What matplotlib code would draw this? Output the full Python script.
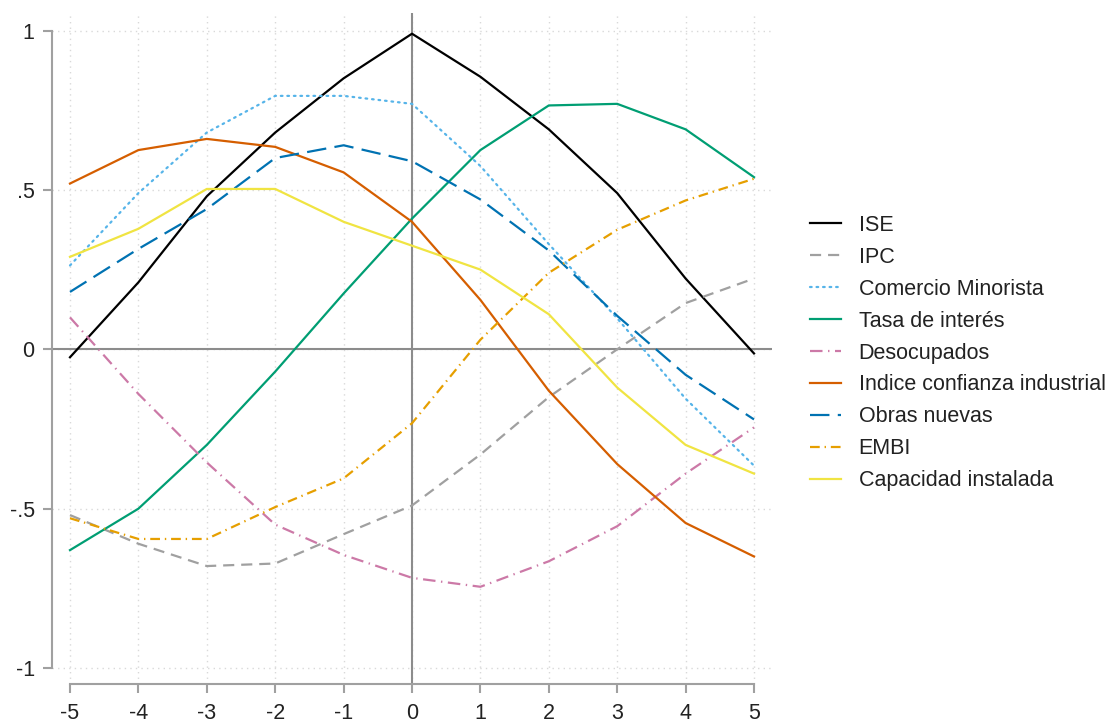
import matplotlib
matplotlib.use("Agg")
import matplotlib.pyplot as plt
import numpy as np

plt.rcParams["font.family"] = ["Liberation Sans", "DejaVu Sans"]
plt.rcParams["lines.scale_dashes"] = False

# leads / lags
lags = [-5, -4, -3, -2, -1, 0, 1, 2, 3, 4, 5]

ise = [-0.025, 0.21, 0.48, 0.68, 0.85, 0.99, 0.855, 0.69, 0.49, 0.222, -0.013]
ipc = [-0.52, -0.61, -0.68, -0.672, -0.58, -0.49, -0.33, -0.15, 0.0, 0.145, 0.222]
comercio = [0.263, 0.49, 0.68, 0.795, 0.795, 0.77, 0.575, 0.33, 0.097, -0.155, -0.365]
tasa = [-0.63, -0.5, -0.3, -0.07, 0.175, 0.41, 0.625, 0.765, 0.77, 0.69, 0.54]
desocupados = [0.10, -0.14, -0.355, -0.55, -0.645, -0.717, -0.745, -0.665, -0.555, -0.39, -0.245]
confianza = [0.52, 0.625, 0.66, 0.635, 0.555, 0.40, 0.155, -0.13, -0.36, -0.545, -0.65]
obras = [0.18, 0.315, 0.44, 0.60, 0.64, 0.59, 0.47, 0.31, 0.105, -0.08, -0.22]
embi = [-0.53, -0.595, -0.595, -0.495, -0.405, -0.232, 0.03, 0.24, 0.375, 0.467, 0.535]
capacidad = [0.29, 0.378, 0.503, 0.503, 0.40, 0.325, 0.25, 0.11, -0.12, -0.30, -0.39]

series = [
    ("ISE", ise, "#000000", "-"),
    ("IPC", ipc, "#A0A0A0", (0, (8, 5))),
    ("Comercio Minorista", comercio, "#56B4E9", (0, (1.2, 3.5))),
    ("Tasa de interés", tasa, "#009E73", "-"),
    ("Desocupados", desocupados, "#CC79A7", (0, (9, 4, 1, 4))),
    ("Indice confianza industrial", confianza, "#D55E00", "-"),
    ("Obras nuevas", obras, "#0072B2", (0, (14, 6))),
    ("EMBI", embi, "#E69F00", (0, (7, 3.5, 1, 3.5))),
    ("Capacidad instalada", capacidad, "#F0E442", "-"),
]

fig = plt.figure(figsize=(11.12, 7.24), dpi=100)
ax = fig.add_axes([52 / 1112, 1 - 684 / 724, 720 / 1112, 671 / 724])

ax.grid(True, color="#d9d9d9", linestyle=(0, (1, 3)), linewidth=1.0, zorder=1)
ax.set_axisbelow(True)
ax.axhline(0, color="#8c8c8c", linewidth=1.5, zorder=2)
ax.axvline(0, color="#8c8c8c", linewidth=1.5, zorder=2)

for name, vals, col, ls in series:
    cap = "round" if name == "Comercio Minorista" else "butt"
    ax.plot(lags, vals, color=col, linestyle=ls, linewidth=1.6,
            label=name, dash_capstyle=cap, zorder=3)

ax.set_xlim(-5.263, 5.263)
ax.set_ylim(-1.05, 1.055)
ax.set_xticks(lags)
ax.set_xticklabels([str(v) for v in lags])
ax.set_yticks([-1, -0.5, 0, 0.5, 1])
ax.set_yticklabels(["-1", "-.5", "0", ".5", "1"])

for side in ["top", "right"]:
    ax.spines[side].set_visible(False)
for side in ["left", "bottom"]:
    ax.spines[side].set_color("#a0a0a0")
    ax.spines[side].set_linewidth(1.5)
ax.spines["left"].set_bounds(-1, 1)
ax.spines["bottom"].set_bounds(-5, 5)
ax.tick_params(axis="both", direction="out", length=6.5, width=1.5,
               color="#a0a0a0", labelsize=15.5, labelcolor="#222222")
ax.tick_params(axis="y", pad=6)
ax.tick_params(axis="x", pad=7)

handles, labels = ax.get_legend_handles_labels()
fig.legend(handles, labels, loc="center left",
           bbox_to_anchor=(791 / 1112, 1 - 353 / 724), frameon=False,
           fontsize=15.5, handlelength=1.4, handletextpad=0.84,
           labelspacing=0.51, labelcolor="#222222")

fig.savefig("out.png", dpi=100)
